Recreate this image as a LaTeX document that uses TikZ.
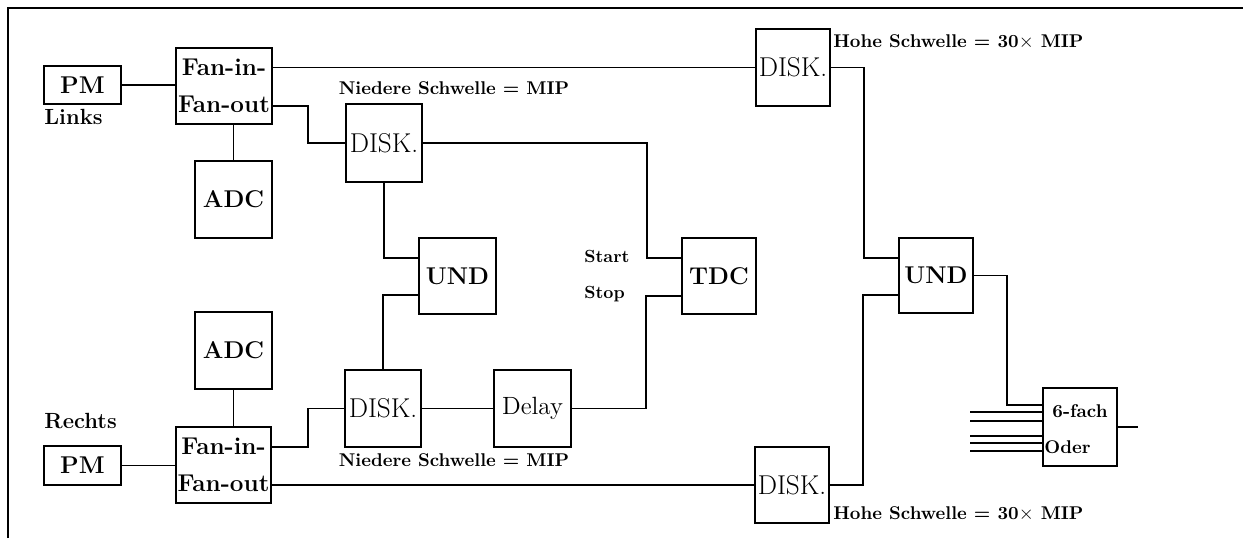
\documentclass[tikz,border=0pt]{standalone}
\usetikzlibrary{calc}
\begin{document}
\begin{tikzpicture}[x=0.02cm,y=-0.02cm]
\tikzset{
  box/.style={draw, line width=0.8pt, inner sep=0pt, align=center},
  big/.style={font=\fontsize{13.8}{21}\selectfont\bfseries},
  rmbig/.style={font=\fontsize{15.5}{18}\selectfont},
  lbl/.style={font=\fontsize{10.5}{12}\selectfont\bfseries, inner sep=0pt},
  sidelbl/.style={font=\fontsize{12.5}{14}\selectfont\bfseries, inner sep=0pt},
  sslbl/.style={font=\fontsize{10}{11}\selectfont\bfseries, inner sep=0pt},
  wire/.style={line width=0.8pt},
}
\useasboundingbox (0,0) rectangle (1243,538);
% frame
\draw[wire] (8,538) -- (8,8) -- (1243,8);

% nodes
\node[box,big,minimum width=1.54cm,minimum height=0.76cm] (pmL) at (82.5,85) {PM};
\node[box,big,minimum width=1.92cm,minimum height=1.52cm] (fanL) at (224,86) {Fan-in-\\Fan-out};
\node[box,big,minimum width=1.54cm,minimum height=1.54cm] (adcL) at (233.5,199.5) {ADC};
\node[box,rmbig,minimum width=1.52cm,minimum height=1.56cm] (disk1) at (384,143) {DISK.};
\node[box,big,minimum width=1.54cm,minimum height=1.52cm] (und1) at (457.5,276) {UND};
\node[box,big,minimum width=1.48cm,minimum height=1.52cm] (tdc) at (719,276) {TDC};
\node[box,rmbig,minimum width=1.52cm,minimum height=1.54cm] (disk2) at (383,408.5) {DISK.};
\node[box,font=\fontsize{14.2}{16}\selectfont,minimum width=1.54cm,minimum height=1.54cm] (delay) at (532.5,408.5) {Delay};
\node[box,big,minimum width=1.54cm,minimum height=1.54cm] (adcR) at (233.5,350.5) {ADC};
\node[box,big,minimum width=1.9cm,minimum height=1.52cm] (fanR) at (223.5,465) {Fan-in-\\Fan-out};
\node[box,big,minimum width=1.54cm,minimum height=0.78cm] (pmR) at (82.5,465.5) {PM};
\node[box,rmbig,minimum width=1.48cm,minimum height=1.54cm] (diskH1) at (793,67.5) {DISK.};
\node[box,rmbig,minimum width=1.48cm,minimum height=1.52cm] (diskH2) at (792,485) {DISK.};
\node[box,big,minimum width=1.48cm,minimum height=1.5cm] (und2) at (936,275.5) {UND};
\node[box,minimum width=1.48cm,minimum height=1.56cm] (oder) at (1080,427) {};
\node[lbl,font=\fontsize{10.5}{12}\selectfont\bfseries,anchor=base] (sechs) at (1080,417) {6-fach};
\node[lbl,font=\fontsize{10.5}{12}\selectfont\bfseries,anchor=base west] (odertxt) at (1044,453) {Oder};

% labels
\node[sidelbl,anchor=base west] (links) at (44,124) {Links};
\node[sidelbl,anchor=base west] (rechts) at (44,428) {Rechts};
\node[lbl,anchor=base] (nied1) at (454,94) {Niedere Schwelle = MIP};
\node[lbl,anchor=base] (nied2) at (454,466) {Niedere Schwelle = MIP};
\node[lbl,anchor=base west] (hoch1) at (833,47) {Hohe Schwelle = 30$\times$ MIP};
\node[lbl,anchor=base west] (hoch2) at (833,519) {Hohe Schwelle = 30$\times$ MIP};
\node[sslbl,anchor=base west] (start) at (584,262) {Start};
\node[sslbl,anchor=base west] (stop) at (584,298) {Stop};

% wires
\draw[wire] (pmL.east) -- (pmL.east -| fanL.west);
\draw[wire] (diskH1.west -| fanL.east) -- (diskH1.west);
\draw[wire] ($(fanL.east)+(0,20)$) -- (308,106) |- (disk1.west);
\draw[wire] (adcL.north) -- (adcL.north |- fanL.south);
\draw[wire] (disk1.east) -- (647,143) |- ($(tdc.west)+(0,-18)$);
\draw[wire] (disk1.south) |- ($(und1.west)+(0,-18)$);
\draw[wire] ($(und1.west)+(0,19)$) -| (disk2.north);
\draw[wire] (disk2.east) -- (delay.west);
\draw[wire] (delay.east) -- (646,408.5) |- ($(tdc.west)+(0,20)$);
\draw[wire] ($(fanR.east)+(0,-18)$) -- (308,447) |- (disk2.west);
\draw[wire] (diskH2.west -| fanR.east) -- (diskH2.west);
\draw[wire] (adcR.south) -- (adcR.south |- fanR.north);
\draw[wire] (pmR.east) -- (pmR.east -| fanR.west);
\draw[wire] (diskH1.east) -- (864,67.5) |- ($(und2.west)+(0,-17.5)$);
\draw[wire] (diskH2.east) -- (863,485) |- ($(und2.west)+(0,19.5)$);
\draw[wire] (und2.east) -- (1007,275.5) |- ($(oder.west)+(0,-22)$);
\foreach \i/\dy in {1/-15,2/-6,3/9,4/16,5/24} {
  \coordinate (in\i) at ($(oder.west)+(-72,\dy)$);
  \draw[wire] (in\i) -- ($(oder.west)+(0,\dy)$);
}
\coordinate (out) at (1138,427);
\draw[wire] (oder.east) -- (out);
\end{tikzpicture}
\end{document}
